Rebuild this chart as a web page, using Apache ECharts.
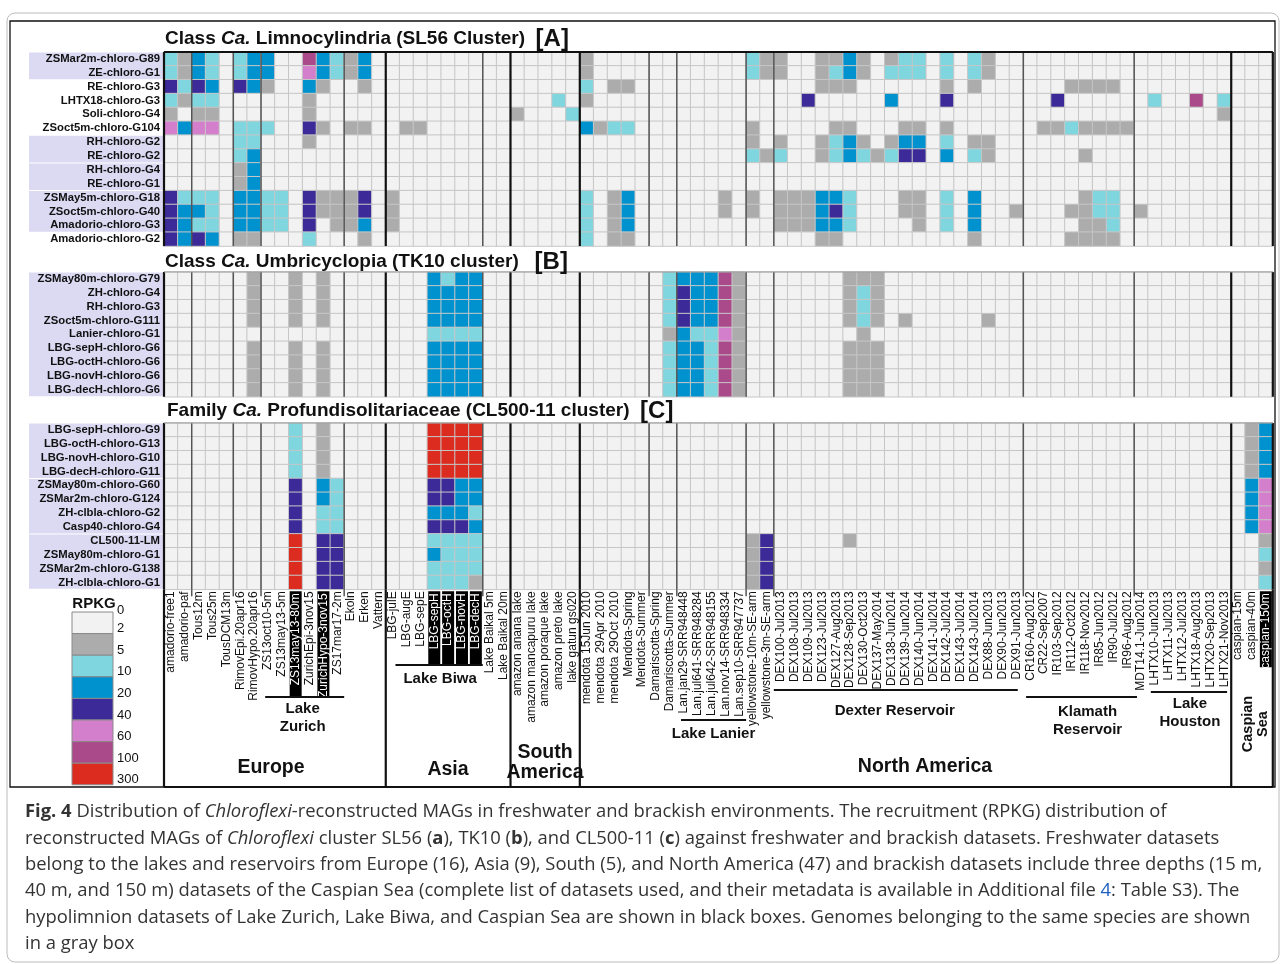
<!DOCTYPE html>
<html>
<head>
<meta charset="utf-8">
<script src="https://cdn.jsdelivr.net/npm/echarts@6/dist/echarts.min.js"></script>
<style>
html, body { margin: 0; padding: 0; background: #fff; }
#chart { width: 1281px; height: 964px; }
</style>
</head>
<body>
<div id="chart"></div>
<script>
// datasets (x categories), 80 columns
const datasets = [
    'amadorio-free1', 'amadorio-paf', 'Tous12m', 'Tous25m', 'TousDCM13m', 'RimovEpi.20apr16', 'RimovHypo.20apr16',
    'ZS13oct10-5m', 'ZS13may13-5m', 'ZS13may13-80m', 'ZurichEpi-3nov15', 'ZurichHypo-3nov15', 'ZS17mar17-2m',
    'Ekoln', 'Erken', 'Vattern',
    'LBG-julE', 'LBG-augE', 'LBG-sepE', 'LBG-sepH', 'LBG-octH', 'LBG-novH', 'LBG-decH', 'Lake Baikal 5m', 'Lake Baikal 20m',
    'amazon anana lake', 'amazon mancapuru lake', 'amazon poraque lake', 'amazon preto lake', 'lake gatun gs020',
    'mendota 15Jun 2010', 'mendota 29Apr 2010', 'mendota 29Oct 2010', 'Mendota-Spring', 'Mendota-Summer',
    'Damariscotta-Spring', 'Damariscotta-Summer',
    'Lan.jan29-SRR948448', 'Lan.jul641-SRR948284', 'Lan.jul642-SRR948155', 'Lan.nov14-SRR948334', 'Lan.sep10-SRR947737',
    'yellowstone-10m-SE-arm', 'yellowstone-3m-SE-arm',
    'DEX100-Jul2013', 'DEX108-Jul2013', 'DEX109-Jul2013', 'DEX123-Jul2013', 'DEX127-Aug2013', 'DEX128-Sep2013',
    'DEX130-Oct2013', 'DEX137-May2014', 'DEX138-Jun2014', 'DEX139-Jun2014', 'DEX140-Jun2014', 'DEX141-Jul2014',
    'DEX142-Jul2014', 'DEX143-Jul2014', 'DEX143-Jul2014', 'DEX88-Jun2013', 'DEX90-Jun2013', 'DEX91-Jun2013',
    'CR160-Aug2012', 'CR22-Sep2007', 'IR103-Sep2012', 'IR112-Oct2012', 'IR118-Nov2012', 'IR85-Jun2012', 'IR90-Jul2012',
    'IR96-Aug2012', 'MDT14.1-Jun2014',
    'LHTX10-Jun2013', 'LHTX11-Jul2013', 'LHTX12-Jul2013', 'LHTX18-Aug2013', 'LHTX20-Sep2013', 'LHTX21-Nov2013',
    'caspian-15m', 'caspian-40m', 'caspian-150m'
];
const hypolimnion = ['ZS13may13-80m', 'ZurichHypo-3nov15', 'LBG-sepH', 'LBG-octH', 'LBG-novH', 'LBG-decH', 'caspian-150m'];

// continents [name, first col, last col + 1]
const regions = [['Europe', 0, 16], ['Asia', 16, 25], ['South\nAmerica', 25, 30], ['North America', 30, 77], ['Caspian\nSea', 77, 80]];
// lakes with several datasets [name, first col, last col + 1]
const lakes = [['Lake\nZurich', 7, 13], ['Lake Biwa', 16, 23], ['Lake Lanier', 37, 42], ['Dexter Reservoir', 44, 62],
    ['Klamath\nReservoir', 62, 71], ['Lake\nHouston', 71, 77]];
const subBreaks = [2, 5, 7, 13, 23, 35, 37, 42, 44, 62, 70];
const regionBreaks = [0, 16, 25, 30, 77, 80];

// MAGs (rows)
const rowsA = ['ZSMar2m-chloro-G89', 'ZE-chloro-G1', 'RE-chloro-G3', 'LHTX18-chloro-G3', 'Soli-chloro-G4', 'ZSoct5m-chloro-G104',
    'RH-chloro-G2', 'RE-chloro-G2', 'RH-chloro-G4', 'RE-chloro-G1', 'ZSMay5m-chloro-G18', 'ZSoct5m-chloro-G40',
    'Amadorio-chloro-G3', 'Amadorio-chloro-G2'];
const rowsB = ['ZSMay80m-chloro-G79', 'ZH-chloro-G4', 'RH-chloro-G3', 'ZSoct5m-chloro-G111', 'Lanier-chloro-G1',
    'LBG-sepH-chloro-G6', 'LBG-octH-chloro-G6', 'LBG-novH-chloro-G6', 'LBG-decH-chloro-G6'];
const rowsC = ['LBG-sepH-chloro-G9', 'LBG-octH-chloro-G13', 'LBG-novH-chloro-G10', 'LBG-decH-chloro-G11', 'ZSMay80m-chloro-G60',
    'ZSMar2m-chloro-G124', 'ZH-clbla-chloro-G2', 'Casp40-chloro-G4', 'CL500-11-LM', 'ZSMay80m-chloro-G1',
    'ZSMar2m-chloro-G138', 'ZH-clbla-chloro-G1'];
// same species (row index ranges)
const speciesA = [[0, 1], [6, 7], [8, 9], [10, 12]];
const speciesB = [[0, 8]];
const speciesC = [[0, 3], [4, 7], [8, 11]];

// RPKG class per cell (0: <2, 1: 2-5, 2: 5-10, 3: 10-20, 4: 20-40, 5: 40-60, 6: 60-100, 7: 100-300), 10 columns per block
const levelsA = [
    '2132023300 6321300000 0000000000 1000000000 0021100113 1012202021 0000000000 0000000000',
    '2132023300 5321300000 0000000000 1000000000 0021100123 1022202021 0000000000 0000000000',
    '4243043100 3100100000 0000000000 2011000000 0000000111 0000001010 0000011110 0000000000',
    '2122000000 1000000000 0000000020 1000000000 0000004000 0030004000 0000400000 0200602000',
    '1011000000 1000000000 0000010002 0000000000 0000000000 0000000000 0000000000 0000001000',
    '5355022200 4101100110 0000000000 3122000000 0010000011 0001101000 0001121111 0000000000',
    '0000022000 1000000000 0000000000 0000000000 0010100123 1013302011 0000000000 0000000000',
    '0000023000 0000000000 0000000000 0000000000 0021200123 2124403021 0000001000 0000000000',
    '0000013000 0000000000 0000000000 0000000000 0000000000 0000000000 0000000000 0000000000',
    '0000013000 0000000000 0000000000 0000000000 0000000000 0000000000 0000000000 0000000000',
    '4222033220 4111401000 0000000000 2013000000 1010111332 0001102030 0000001220 0000000000',
    '4332033220 4111401000 0000000000 2013000000 1010111342 0001102030 0100011220 1000000000',
    '4322033220 4011301000 0000000000 2013000000 0000111332 0000102030 0000001120 0000000000',
    '4343011000 2000100000 0000000000 2011000000 0000000110 0000000010 0000011110 0000000000'
];
const levelsB = [
    '0000001001 0100000003 2330000000 0000002333 6100000001 1100000000 0000000000 0000000000',
    '0000001001 0100000003 3330000000 0000002433 6100000001 2100000000 0000000000 0000000000',
    '0000001001 0100000003 3330000000 0000002433 6100000001 2100000000 0000000000 0000000000',
    '0000001001 0100000003 3330000000 0000002433 6100000001 2101000001 0000000000 0000000000',
    '0000000000 0000000002 2220000000 0000001322 5100000000 1000000000 0000000000 0000000000',
    '0000001001 0100000003 3330000000 0000002332 6100000001 1100000000 0000000000 0000000000',
    '0000001001 0100000003 3330000000 0000002332 6100000001 1100000000 0000000000 0000000000',
    '0000001001 0100000003 3330000000 0000002332 6100000001 1100000000 0000000000 0000000000',
    '0000001001 0100000003 3330000000 0000002332 6100000001 1100000000 0000000000 0000000000'
];
const levelsC = [
    '0000000002 0100000007 7770000000 0000000000 0000000000 0000000000 0000000000 0000000013',
    '0000000002 0100000007 7770000000 0000000000 0000000000 0000000000 0000000000 0000000013',
    '0000000002 0100000007 7770000000 0000000000 0000000000 0000000000 0000000000 0000000013',
    '0000000002 0100000007 7770000000 0000000000 0000000000 0000000000 0000000000 0000000013',
    '0000000004 0320000004 4330000000 0000000000 0000000000 0000000000 0000000000 0000000035',
    '0000000004 0320000004 4330000000 0000000000 0000000000 0000000000 0000000000 0000000035',
    '0000000004 0220000003 3320000000 0000000000 0000000000 0000000000 0000000000 0000000035',
    '0000000004 0220000004 4430000000 0000000000 0000000000 0000000000 0000000000 0000000035',
    '0000000007 0440000002 2220000000 0000000000 0014000001 0000000000 0000000000 0000000001',
    '0000000007 0440000003 2220000000 0000000000 0014000000 0000000000 0000000000 0000000002',
    '0000000007 0440000002 2220000000 0000000000 0014000000 0000000000 0000000000 0000000001',
    '0000000007 0440000002 2210000000 0000000000 0014000000 0000000000 0000000000 0000000002'
];

const binLabels = ['0', '2', '5', '10', '20', '40', '60', '100', '300'];
const binColors = ['#f2f2f2', '#acacac', '#80d6df', '#0092ce', '#3b2a97', '#d47fcc', '#ab4a8b', '#dc2b1f'];

const FONT = '"Liberation Sans", Arial, sans-serif';
const chart = echarts.init(document.getElementById('chart'));

function toCells(levels) {
    var out = [];
    levels.forEach(function (row, r) {
        row.replace(/ /g, '').split('').forEach(function (c, k) {
            out.push([k, r, +c]);
        });
    });
    return out;
}

const panels = [
    {rows: rowsA, levels: levelsA, species: speciesA, top: 52},
    {rows: rowsB, levels: levelsB, species: speciesB, top: 272},
    {rows: rowsC, levels: levelsC, species: speciesC, top: 423}
];
const CELL = 13.86;

var boxLabel = function (w) {
    return {width: w, align: 'right', backgroundColor: '#000', color: '#fff', fontSize: 12, fontFamily: FONT, lineHeight: 14, padding: [0, 2, 0, 0]};
};

chart.setOption({
    animation: false,
    grid: panels.map(function (p) {
        return {left: 164, width: 80 * CELL, top: p.top, height: p.rows.length * CELL};
    }),
    xAxis: panels.map(function (p, gi) {
        return {
            type: 'category',
            gridIndex: gi,
            data: datasets,
            axisLine: {show: false},
            axisTick: {show: false},
            splitLine: {show: false},
            axisLabel: {
                show: gi == 2,
                interval: 0,
                rotate: 90,
                margin: 2,
                fontSize: 12,
                fontFamily: FONT,
                color: '#111',
                formatter: function (v) {
                    if (hypolimnion.indexOf(v) < 0) {
                        return v;
                    }
                    var key = v.indexOf('LBG') == 0 ? 'hl' : (v.indexOf('caspian') == 0 ? 'hc' : 'hz');
                    return '{' + key + '|' + v + '}';
                },
                rich: {hz: boxLabel(104), hl: boxLabel(72), hc: boxLabel(74)}
            }
        };
    }),
    yAxis: panels.map(function (p, gi) {
        return {
            type: 'category',
            gridIndex: gi,
            inverse: true,
            data: p.rows,
            z: 5,
            axisLine: {show: false},
            axisTick: {show: false},
            splitLine: {show: false},
            axisLabel: {
                interval: 0,
                margin: 4,
                fontSize: 11.3,
                fontWeight: 'bold',
                fontFamily: FONT,
                color: '#111'
            }
        };
    }),
    visualMap: {
        type: 'piecewise',
        show: false,
        dimension: 2,
        seriesIndex: [0, 1, 2],
        pieces: binColors.map(function (c, i) {
            return {value: i, color: c};
        })
    },
    series: panels.map(function (p, gi) {
        return {
            type: 'heatmap',
            xAxisIndex: gi,
            yAxisIndex: gi,
            data: toCells(p.levels),
            itemStyle: {borderColor: '#c6c6c6', borderWidth: 1},
            emphasis: {disabled: true}
        };
    })
});

// decorations positioned from the axes
function decorations() {
    var g = [];
    var x0 = chart.convertToPixel({xAxisIndex: 2}, 0);
    var cw = chart.convertToPixel({xAxisIndex: 2}, 1) - x0;
    var ex = function (k) { return x0 + (k - 0.5) * cw; };
    var line = function (x1, y1, x2, y2, color, w, z) {
        g.push({type: 'line', silent: true, z: z || 50, shape: {x1: x1, y1: y1, x2: x2, y2: y2}, style: {stroke: color, lineWidth: w}});
    };
    var text = function (x, y, t, size, opt) {
        opt = opt || {};
        g.push({
            type: 'text', silent: true, z: 60, x: x, y: y, rotation: opt.rotation || 0,
            style: {
                text: t, fill: opt.color || '#111', fontSize: size, fontFamily: opt.family || FONT,
                fontWeight: opt.weight || 'bold', align: opt.align || 'center', verticalAlign: 'middle',
                textAlign: opt.align || 'center', textVerticalAlign: 'middle', lineHeight: opt.lineHeight || size * 1.15,
                rich: opt.rich
            }
        });
    };

    var bounds = panels.map(function (p, gi) {
        var y0 = chart.convertToPixel({yAxisIndex: gi}, 0);
        var rh = chart.convertToPixel({yAxisIndex: gi}, 1) - y0;
        return {top: y0 - rh / 2, bottom: y0 + (p.rows.length - 0.5) * rh, rh: rh};
    });

    bounds.forEach(function (b, gi) {
        subBreaks.forEach(function (k) {
            line(ex(k), b.top, ex(k), b.bottom, '#555', 1.5);
        });
        regionBreaks.forEach(function (k) {
            line(ex(k), b.top, ex(k), b.bottom, '#111', 2.2);
        });
        line(ex(0), b.top, ex(80), b.top, gi == 0 ? '#111' : '#999', gi == 0 ? 2 : 1);
        panels[gi].species.forEach(function (s) {
            g.push({
                type: 'rect', silent: true, z: -1,
                shape: {x: 29, y: b.top + s[0] * b.rh + 0.5, width: ex(0) - 30, height: (s[1] - s[0] + 1) * b.rh - 1},
                style: {fill: '#dcd9f3'}
            });
        });
    });

    // dataset label area
    var lt = bounds[2].bottom, lb = 787;
    regionBreaks.forEach(function (k) {
        line(ex(k), lt, ex(k), lb, '#111', 2.2);
    });
    subBreaks.forEach(function (k) {
        line(ex(k), lt, ex(k), lt + 7, '#555', 1.5);
    });
    line(ex(0), lb, ex(80), lb, '#111', 2);

    // lake underlines and names
    var lakeStyle = {
        'Lake\nZurich': {ly: 697, ty: 718, a: 0.3, b: 0, dx: -2},
        'Lake Biwa': {ly: 665, ty: 679, a: 0.7, b: 0, dx: 1},
        'Lake Lanier': {ly: 720, ty: 734, a: 0.3, b: 0, dx: 0},
        'Dexter Reservoir': {ly: 690, ty: 711, a: 0, b: 0.4, dx: -1},
        'Klamath\nReservoir': {ly: 697, ty: 721, a: 0.2, b: 0.8, dx: 6},
        'Lake\nHouston': {ly: 692, ty: 713, a: 0.2, b: 0.3, dx: 1}
    };
    lakes.forEach(function (l) {
        var s = lakeStyle[l[0]];
        var xa = ex(l[1] + s.a), xb = ex(l[2] - s.b);
        line(xa, s.ly, xb, s.ly, '#111', 2);
        text((xa + xb) / 2 + s.dx, s.ty, l[0], 15, {lineHeight: 18});
    });

    // continents
    var regionStyle = {
        'Europe': {x: 271, y: 768},
        'Asia': {x: 448, y: 770},
        'South\nAmerica': {x: 545, y: 763},
        'North America': {x: 925, y: 767}
    };
    regions.forEach(function (r) {
        var s = regionStyle[r[0]];
        if (s) {
            text(s.x, s.y, r[0], 19.5, {lineHeight: 20});
        } else {
            text((ex(r[1]) + ex(r[2])) / 2 + 3, 724, r[0], 14.5, {rotation: Math.PI / 2, lineHeight: 15});
        }
    });

    // RPKG legend
    var lx = 72, ly = 612, bh = 21.6;
    binColors.forEach(function (c, i) {
        g.push({
            type: 'rect', silent: true, z: 40,
            shape: {x: lx, y: ly + i * bh, width: 41, height: bh},
            style: {fill: c, stroke: '#8a8a8a', lineWidth: 1}
        });
    });
    binLabels.forEach(function (t, i) {
        text(117, ly + i * bh - (i == 0 ? 2 : 5), t, 13, {weight: 'normal', align: 'left'});
    });
    text(94, 604, 'RPKG', 15);

    // panel titles
    var titleRich = {
        i: {fontStyle: 'italic', fontWeight: 'bold', fontSize: 19, fontFamily: FONT, fill: '#111'},
        k: {fontWeight: 'bold', fontSize: 24, fontFamily: FONT, fill: '#111'}
    };
    text(165, 39, 'Class {i|Ca.} Limnocylindria (SL56 Cluster)  {k|[A]}', 19, {align: 'left', rich: titleRich});
    text(165, 262, 'Class {i|Ca.} Umbricyclopia (TK10 cluster)   {k|[B]}', 19, {align: 'left', rich: titleRich});
    text(167, 411, 'Family {i|Ca.} Profundisolitariaceae (CL500-11 cluster)  {k|[C]}', 19, {align: 'left', rich: titleRich});

    // caption
    var CAP = '"Open Sans", "Noto Sans", sans-serif';
    var CS = 18.4;
    var capRich = {
        b: {fontWeight: 'bold', fontSize: CS, fontFamily: CAP, fill: '#333'},
        i: {fontStyle: 'italic', fontSize: CS, fontFamily: CAP, fill: '#333'},
        l: {fontSize: CS, fontFamily: CAP, fill: '#1f5fbf'}
    };
    var caption = [
        '{b|Fig. 4} Distribution of {i|Chloroflexi}-reconstructed MAGs in freshwater and brackish environments. The recruitment (RPKG) distribution of',
        'reconstructed MAGs of {i|Chloroflexi} cluster SL56 ({b|a}), TK10 ({b|b}), and CL500-11 ({b|c}) against freshwater and brackish datasets. Freshwater datasets',
        'belong to the lakes and reservoirs from Europe (16), Asia (9), South (5), and North America (47) and brackish datasets include three depths (15 m,',
        '40 m, and 150 m) datasets of the Caspian Sea (complete list of datasets used, and their metadata is available in Additional file {l|4}: Table S3). The',
        'hypolimnion datasets of Lake Zurich, Lake Biwa, and Caspian Sea are shown in black boxes. Genomes belonging to the same species are shown',
        'in a gray box'
    ];
    caption.forEach(function (c, i) {
        text(25, 812 + i * 26.4, c, CS, {align: 'left', weight: 'normal', family: CAP, color: '#333', rich: capRich});
    });

    // frames
    g.push({type: 'rect', silent: true, z: 45, shape: {x: 10, y: 21, width: 1265, height: 766},
        style: {fill: null, stroke: '#111', lineWidth: 1.3}});
    g.push({type: 'rect', silent: true, z: 45, shape: {x: 7, y: 13, width: 1272, height: 949, r: 8},
        style: {fill: null, stroke: '#bbb', lineWidth: 1}});

    chart.setOption({graphic: {elements: g}});
}

decorations();
</script>
</body>
</html>
